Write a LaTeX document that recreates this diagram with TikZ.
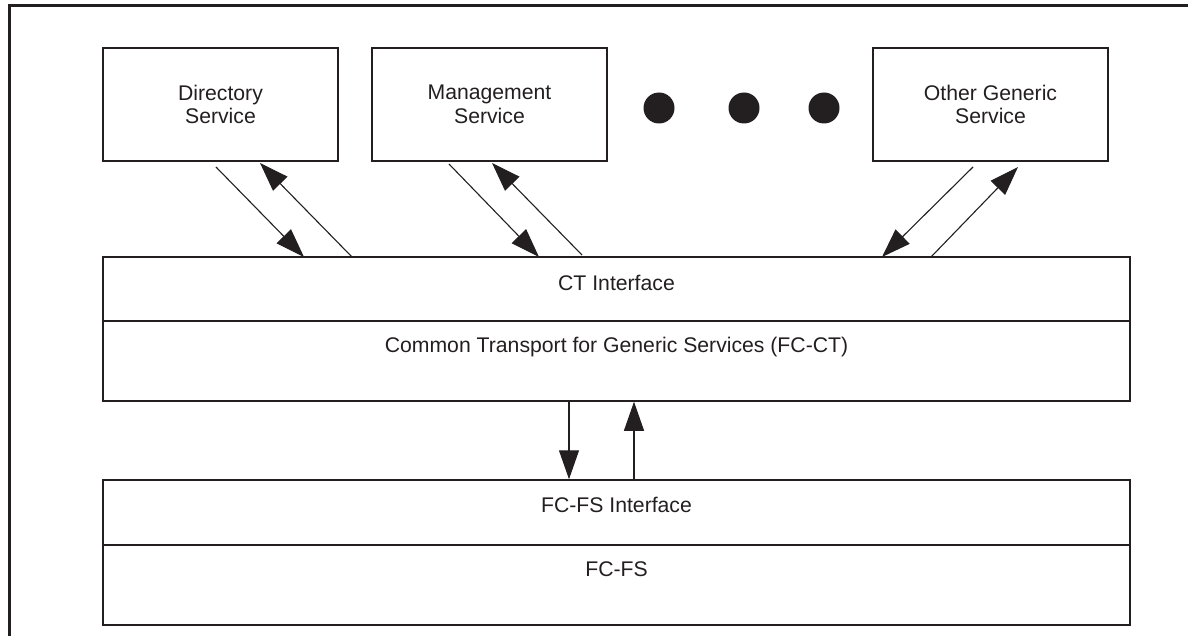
\documentclass[tikz,border=0pt]{standalone}
\usepackage{fontspec}
\setmainfont{Liberation Sans}
\usetikzlibrary{arrows.meta}
\definecolor{ink}{RGB}{35,31,32}
\begin{document}
\begin{tikzpicture}[x=1pt,y=-1pt,
  every node/.style={text=ink,font=\fontsize{21.2}{23.5}\selectfont},
  svcbox/.style={draw=ink,line width=1.5pt,rectangle,minimum width=235pt,minimum height=113pt,inner sep=0pt,align=center},
  layerbox/.style={draw=ink,line width=1.5pt,rectangle,inner sep=0pt},
  divider/.style={draw=ink,line width=2.2pt},
  lbl/.style={inner sep=0pt,align=center},
  flow/.style={draw=ink,line width=1.1pt,-{Triangle[length=29pt,width=20pt]}},
  dot/.style={fill=ink}]
\useasboundingbox (0,0) rectangle (1188,636);
% outer frame (top and left only)
\draw[ink,line width=2.6pt] (9.5,636) -- (9.5,5.5) -- (1188,5.5);
% services
\node[svcbox] (dir) at (220.5,104.5) {Directory\\Service};
\node[svcbox] (mgmt) at (489.5,104.5) {Management\\Service};
\node[svcbox] (other) at (990.5,104.5) {Other Generic\\Service};
\fill[dot] (659,108) circle (15.5);
\fill[dot] (744,108) circle (15.5);
\fill[dot] (824,108) circle (15.5);
% CT layer
\node[layerbox,minimum width=1027pt,minimum height=144pt] (ct) at (616.5,329) {};
\coordinate (ctl) at (103,321);
\coordinate (ctr) at (1130,321);
\draw[divider] (ctl) -- (ctr);
\node[lbl] (ctif) at (616.5,283) {CT Interface};
\node[lbl] (fcct) at (616.5,347) {Common Transport for Generic Services (FC-CT)};
% FS layer
\node[layerbox,minimum width=1027pt,minimum height=145pt] (fs) at (616.5,552.5) {};
\coordinate (fsl) at (103,545);
\coordinate (fsr) at (1130,545);
\draw[divider] (fsl) -- (fsr);
\node[lbl] (fsif) at (616.5,505) {FC-FS Interface};
\node[lbl] (fcfs) at (616.5,569) {FC-FS};
% diagonal arrows
\coordinate (d1s) at (216,167);
\coordinate (d1e) at (304,257);
\coordinate (d2s) at (352,257);
\coordinate (d2e) at (260,163);
\coordinate (m1s) at (449,164);
\coordinate (m1e) at (539,257);
\coordinate (m2s) at (582,255);
\coordinate (m2e) at (492,163);
\coordinate (o1s) at (973,167);
\coordinate (o1e) at (882,257);
\coordinate (o2s) at (931,257);
\coordinate (o2e) at (1018,167);
\draw[flow] (d1s) -- (d1e);
\draw[flow] (d2s) -- (d2e);
\draw[flow] (m1s) -- (m1e);
\draw[flow] (m2s) -- (m2e);
\draw[flow] (o1s) -- (o1e);
\draw[flow] (o2s) -- (o2e);
% vertical arrows
\draw[flow] (ct.south -| 569,0) -- (fs.north -| 569,0);
\draw[flow] (fs.north -| 634,0) -- (ct.south -| 634,0);
\end{tikzpicture}
\end{document}
